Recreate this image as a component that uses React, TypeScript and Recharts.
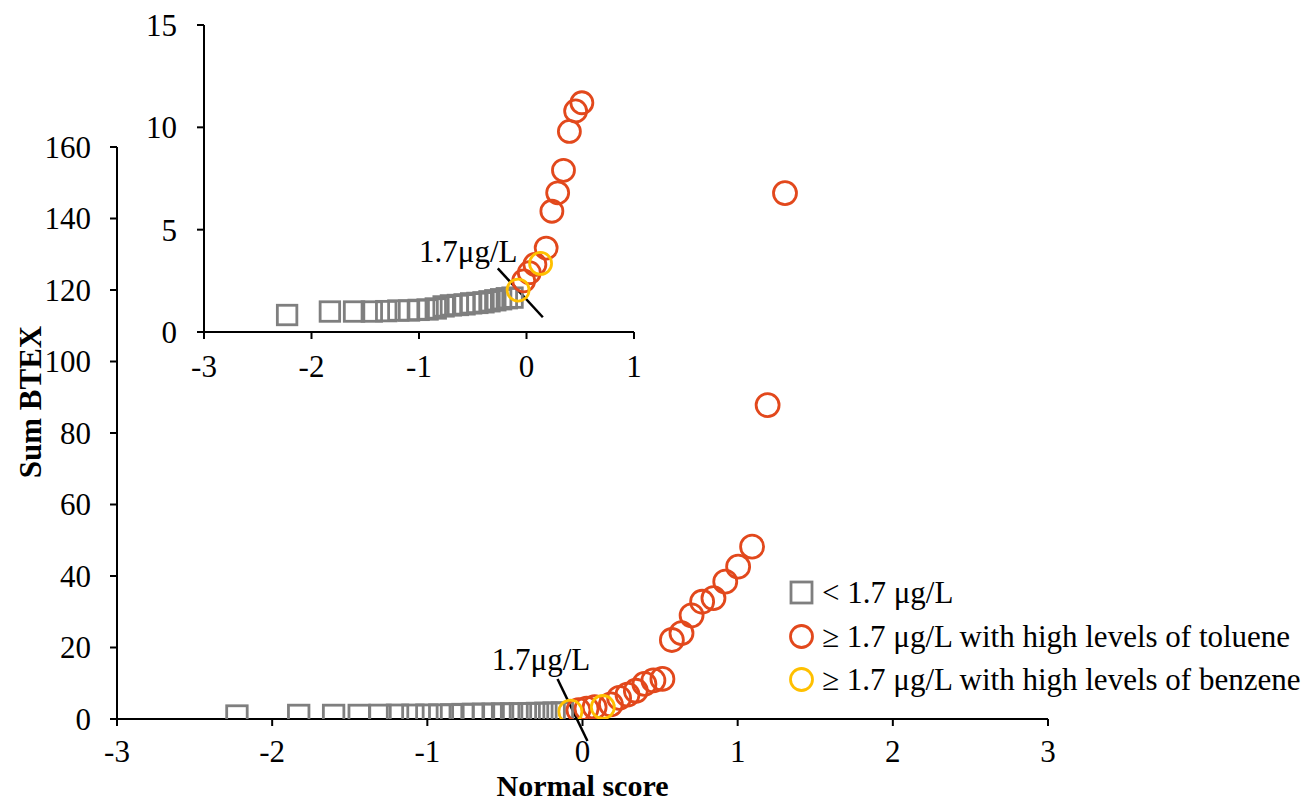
import React from 'react';
import {
  ScatterChart, Scatter, XAxis, YAxis, ReferenceLine, ReferenceDot, Legend, Label,
} from 'recharts';

const FONT = "'Liberation Serif', 'Times New Roman', serif";
const FS = 31;
const GRAY = '#7f7f7f';
const RED = '#E2481C';
const YELLOW = '#FFC000';

// normal scores and Sum BTEX values
const belowScores = [-2.227, -1.829, -1.604, -1.439, -1.305, -1.192, -1.093, -1.003, -0.92, -0.844, -0.771, -0.703, -0.638, -0.576, -0.515, -0.457, -0.4, -0.344, -0.29, -0.236, -0.183, -0.13];
const belowValues = [0.83, 1.0, 1.0, 1.0, 1.02, 1.05, 1.05, 1.08, 1.1, 1.15, 1.25, 1.3, 1.32, 1.35, 1.4, 1.42, 1.45, 1.5, 1.55, 1.6, 1.65, 1.68];

const tolueneScores = [-0.026, 0.026, 0.078, 0.183, 0.236, 0.29, 0.344, 0.399, 0.457, 0.515, 0.576, 0.638, 0.703, 0.771, 0.844, 0.92, 1.003, 1.093, 1.193, 1.305];
const tolueneValues = [2.5, 2.9, 3.3, 4.1, 5.9, 6.8, 7.9, 9.8, 10.8, 11.2, 22.1, 24.0, 29.0, 32.8, 33.8, 38.4, 42.6, 48.2, 87.8, 147.1];

const benzeneScores = [-0.078, 0.131];
const benzeneValues = [2.05, 3.35];

const mainXTicks = [-3, -2, -1, 0, 1, 2, 3];
const mainYTicks = [0, 20, 40, 60, 80, 100, 120, 140, 160];
const insetXTicks = [-3, -2, -1, 0, 1];
const insetYTicks = [0, 5, 10, 15];

const thresholdLabel = '1.7μg/L';
const legendLabels = ['< 1.7 μg/L', '≥ 1.7 μg/L with high levels of toluene', '≥ 1.7 μg/L with high levels of benzene'];

// threshold marker segments (data coordinates)
const mainSegment = [{ x: -0.161, y: 11.2 }, { x: 0.032, y: -6.15 }];
const mainLabelAnchor = { x: 0.05, y: 13.7 };
const insetSegment = [{ x: -0.267, y: 3.11 }, { x: 0.152, y: 0.72 }];
const insetLabelAnchor = { x: -0.084, y: 3.41 };

const zip = (xs: number[], ys: number[]) => xs.map((x, i) => ({ x, y: ys[i] }));
const belowData = zip(belowScores, belowValues);
const tolueneData = zip(tolueneScores, tolueneValues);
const benzeneData = zip(benzeneScores, benzeneValues);
const insetLimit = 15;
const insetBelow = belowData.filter((d) => d.y <= insetLimit);
const insetToluene = tolueneData.filter((d) => d.y <= insetLimit);
const insetBenzene = benzeneData.filter((d) => d.y <= insetLimit);

const squareShape = (size: number) => (props: any) => {
  const { cx, cy } = props;
  if (cx == null || cy == null) return <g />;
  return <rect x={cx - size / 2} y={cy - size / 2} width={size} height={size} fill="none" stroke={GRAY} strokeWidth={2.8} />;
};
const circleShape = (r: number, color: string) => (props: any) => {
  const { cx, cy } = props;
  if (cx == null || cy == null) return <g />;
  return <circle cx={cx} cy={cy} r={r} fill="none" stroke={color} strokeWidth={2.8} />;
};
const textShape = (props: any) => {
  const { cx, cy } = props;
  if (cx == null || cy == null) return <g />;
  return (
    <text x={cx} y={cy} textAnchor="end" fontFamily={FONT} fontSize={FS} fill="#000">{thresholdLabel}</text>
  );
};

const axisLine = { stroke: '#000', strokeWidth: 2 };

const XTick = (props: any) => {
  const { x, y, payload } = props;
  return (
    <text x={x} y={y} dy="0.71em" textAnchor="middle" fontFamily={FONT} fontSize={FS} fill="#000">{payload.value}</text>
  );
};
const YTick = (props: any) => {
  const { x, y, payload } = props;
  return (
    <text x={x} y={y} dy="0.35em" textAnchor="end" fontFamily={FONT} fontSize={FS} fill="#000">{payload.value}</text>
  );
};

const renderLegend = () => {
  const markers = [
    <rect key="s" x={2} y={2} width={21} height={21} fill="none" stroke={GRAY} strokeWidth={2.8} />,
    <circle key="t" cx={12.5} cy={12.5} r={11} fill="none" stroke={RED} strokeWidth={2.8} />,
    <circle key="b" cx={12.5} cy={12.5} r={11} fill="none" stroke={YELLOW} strokeWidth={2.8} />,
  ];
  return (
    <div style={{ fontFamily: FONT, fontSize: FS, color: '#000', whiteSpace: 'nowrap' }}>
      {legendLabels.map((lab, i) => (
        <div key={lab} style={{ display: 'flex', alignItems: 'center', height: 43.5 }}>
          <svg width={25} height={25} style={{ display: 'block' }}>{markers[i]}</svg>
          <span style={{ marginLeft: 8, lineHeight: '31px' }}>{lab}</span>
        </div>
      ))}
    </div>
  );
};

export default function App() {
  return (
    <div style={{ position: 'fixed', left: 0, top: 0, width: 1315, height: 804, background: '#fff', overflow: 'hidden', fontFamily: FONT }}>
      <div style={{ position: 'absolute', left: 0, top: 0 }}>
        <ScatterChart width={1315} height={804} margin={{ top: 147, right: 267, bottom: 5, left: 0 }} style={{ fontFamily: FONT }}>
          <XAxis
            type="number" dataKey="x" domain={[-3, 3]} ticks={mainXTicks} allowDataOverflow
            axisLine={axisLine} tickLine={axisLine} tickSize={7} tickMargin={14} tick={<XTick />} height={80}
          >
            <Label
              content={(p: any) => {
                const vb = p.viewBox || {};
                return (
                  <text x={vb.x + vb.width / 2} y={vb.y + 77} textAnchor="middle" fontFamily={FONT} fontWeight="bold" fontSize={29} textLength={172} lengthAdjust="spacingAndGlyphs" fill="#000">Normal score</text>
                );
              }}
            />
          </XAxis>
          <YAxis
            type="number" dataKey="y" domain={[0, 160]} ticks={mainYTicks} allowDataOverflow
            axisLine={axisLine} tickLine={axisLine} tickSize={7} tickMargin={19} tick={<YTick />} width={117}
          >
            <Label
              content={(p: any) => {
                const vb = p.viewBox || {};
                const cx = vb.x + 30;
                const cy = vb.y + vb.height / 2 - 31;
                return (
                  <text x={cx} y={cy} transform={`rotate(-90 ${cx} ${cy})`} textAnchor="middle" dominantBaseline="central" fontFamily={FONT} fontWeight="bold" fontSize={FS} fill="#000">Sum BTEX</text>
                );
              }}
            />
          </YAxis>
          <Scatter name={legendLabels[0]} data={belowData} shape={squareShape(20.5)} isAnimationActive={false} />
          <Scatter name={legendLabels[1]} data={tolueneData} shape={circleShape(11.5, RED)} isAnimationActive={false} />
          <Scatter name={legendLabels[2]} data={benzeneData} shape={circleShape(11.5, YELLOW)} isAnimationActive={false} />
          <ReferenceLine segment={mainSegment} stroke="#000" strokeWidth={2.5} ifOverflow="visible" />
          <ReferenceDot x={mainLabelAnchor.x} y={mainLabelAnchor.y} r={0} shape={textShape} ifOverflow="visible" />
          <Legend
            layout="vertical" align="center" verticalAlign="middle" content={renderLegend}
            wrapperStyle={{ left: 789, top: 571, width: 525, height: 131 }}
          />
        </ScatterChart>
      </div>
      <div style={{ position: 'absolute', left: 100, top: 0 }}>
        <ScatterChart width={560} height={400} margin={{ top: 25, right: 26, bottom: 18, left: 0 }} style={{ fontFamily: FONT }}>
          <XAxis
            type="number" dataKey="x" domain={[-3, 1]} ticks={insetXTicks} allowDataOverflow
            axisLine={axisLine} tickLine={axisLine} tickSize={7} tickMargin={16} tick={<XTick />} height={50}
          />
          <YAxis
            type="number" dataKey="y" domain={[0, 15]} ticks={insetYTicks} allowDataOverflow
            axisLine={axisLine} tickLine={axisLine} tickSize={7} tickMargin={20} tick={<YTick />} width={104}
          />
          <Scatter data={insetBelow} shape={squareShape(19.5)} isAnimationActive={false} />
          <Scatter data={insetToluene} shape={circleShape(11, RED)} isAnimationActive={false} />
          <Scatter data={insetBenzene} shape={circleShape(11, YELLOW)} isAnimationActive={false} />
          <ReferenceLine segment={insetSegment} stroke="#000" strokeWidth={2.5} ifOverflow="visible" />
          <ReferenceDot x={insetLabelAnchor.x} y={insetLabelAnchor.y} r={0} shape={textShape} ifOverflow="visible" />
        </ScatterChart>
      </div>
    </div>
  );
}
